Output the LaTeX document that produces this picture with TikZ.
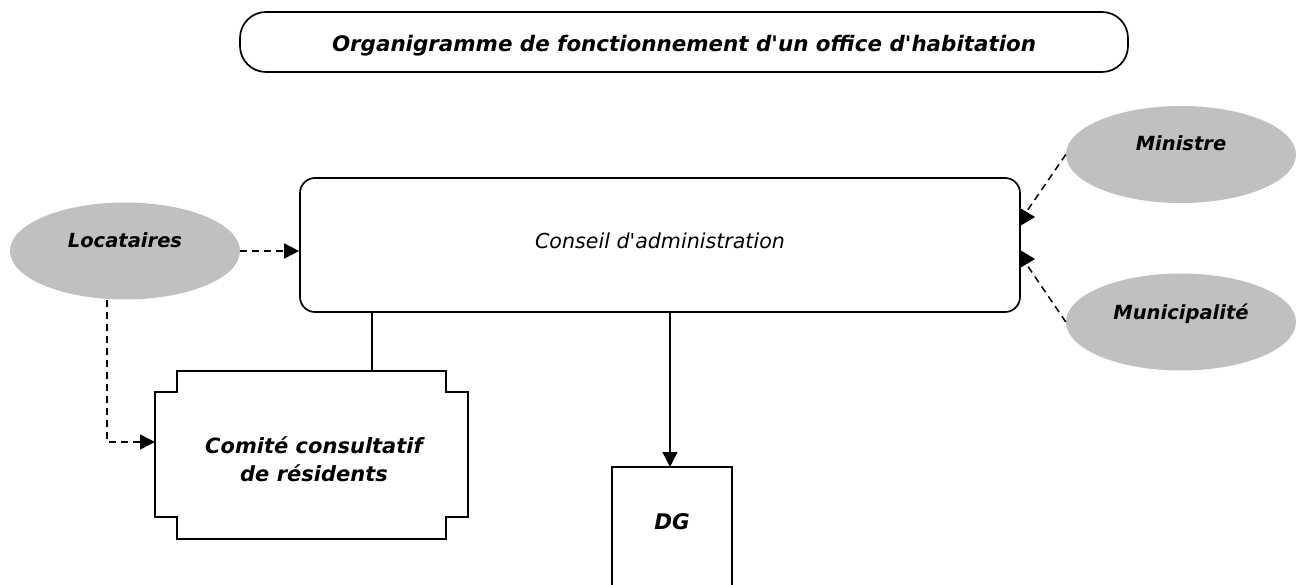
\documentclass[tikz,border=0pt]{standalone}
\usepackage{fontspec}
\setmainfont{DejaVu Sans}[Ligatures=TeXOff,BoldFont={DejaVu Sans Bold},ItalicFont={DejaVu Sans Oblique},BoldItalicFont={DejaVu Sans Bold Oblique}]
\usetikzlibrary{arrows.meta,shapes.geometric}
\definecolor{ellgray}{RGB}{192,192,192}
\begin{document}
\begin{tikzpicture}[x=1pt,y=-1pt,
  lbl/.style={font=\fontsize{19.5}{24}\selectfont\bfseries\itshape},
  ell/.style={ellipse, fill=ellgray, draw=none, minimum width=230pt, minimum height=97pt, inner sep=0pt, lbl},
  boxline/.style={draw, line width=1.7pt},
  conn/.style={line width=1.5pt},
  dsh/.style={conn, dash pattern=on 7pt off 5pt},
  arr/.style={-{Triangle[length=15pt,width=15pt]}},
]
\useasboundingbox (0,0) rectangle (1296,585);

% title
\node[boxline, rounded corners=26pt, minimum width=888pt, minimum height=60pt,
      font=\fontsize{21.4}{26}\selectfont\bfseries\itshape] (title) at (684,42)
      {\raisebox{-4pt}[\height][\depth]{Organigramme de fonctionnement d'un office d'habitation}};

% conseil
\node[boxline, rounded corners=15pt, minimum width=720pt, minimum height=134pt,
      font=\fontsize{20.6}{26}\selectfont\itshape] (ca) at (660,245)
      {\raisebox{8pt}{Conseil d'administration}};

% ellipses
\node[ell] (loc) at (125,251) {\raisebox{21pt}{Locataires}};
\node[ell] (min) at (1181,154.5) {\raisebox{22pt}{Ministre}};
\node[ell] (mun) at (1181,322) {\raisebox{20pt}{Municipalité}};

% comite
\draw[boxline] (177,371) -- (446,371) -- (446,392) -- (468,392) -- (468,517)
  -- (446,517) -- (446,539) -- (177,539) -- (177,517) -- (155,517) -- (155,392)
  -- (177,392) -- cycle;
\node[align=center, font=\fontsize{21}{28}\selectfont\bfseries\itshape] (com) at (314,459)
  {Comité consultatif\\de résidents};

% DG
\begin{scope}
\clip (0,0) rectangle (1296,585);
\draw[boxline] (612,600) -- (612,467) -- (732,467) -- (732,600);
\end{scope}
\node[font=\fontsize{21.5}{26}\selectfont\bfseries\itshape] (dg) at (672,522) {DG};

% connectors
\coordinate (comtop) at (372,371);
\coordinate (dgtop) at (670,467);
\coordinate (ldown) at (107,442);
\coordinate (comleft) at (155,442);
\draw[conn] (ca.south -| comtop) -- (comtop);
\draw[conn, arr] (ca.south -| dgtop) -- (dgtop);
\draw[dsh, arr] (loc.east) -- (loc.east -| ca.west);
\draw[dsh, arr] (loc.south -| ldown) -- (ldown) -- (comleft);

\coordinate (mt) at (1027,211);
\coordinate (mut) at (1027,265);
\draw[dsh] (min.west) -- (mt);
\draw[dsh] (mun.west) -- (mut);
\fill (1020,208) -- (1035,217) -- (1020,226) -- cycle;
\fill (1020,250) -- (1035,259) -- (1020,268) -- cycle;
\end{tikzpicture}
\end{document}
